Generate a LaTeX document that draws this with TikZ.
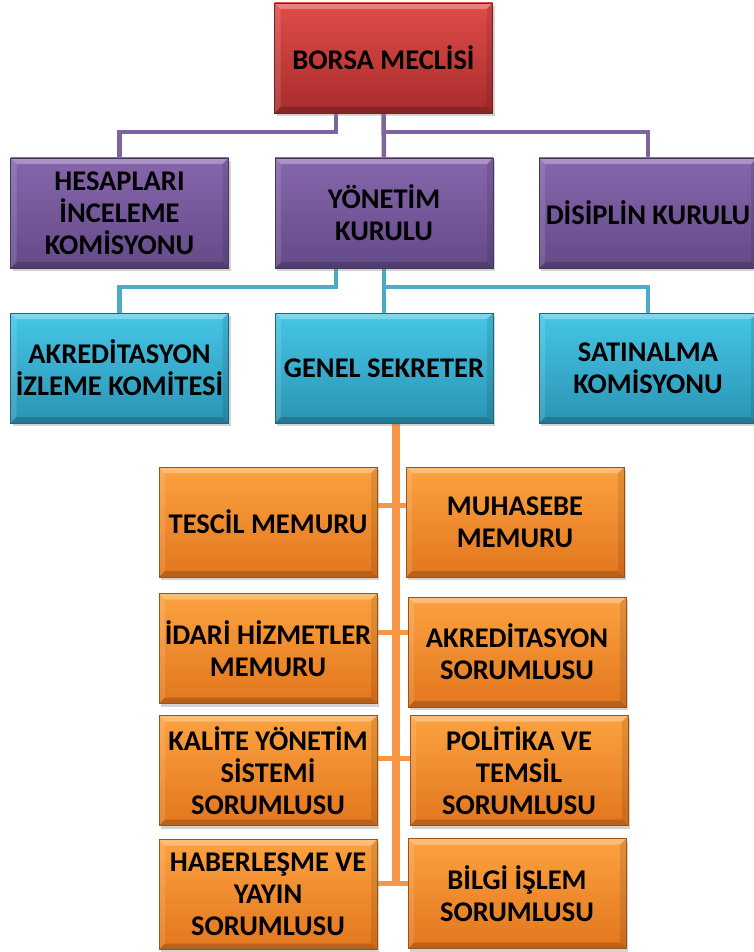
\documentclass[tikz,border=0pt]{standalone}
\usepackage{fontspec}
\setmainfont{Carlito}
\usepackage{xcolor}
\usetikzlibrary{positioning, shadows, backgrounds}

\definecolor{redtop}{RGB}{224,76,72}
\definecolor{redbot}{RGB}{168,44,44}
\definecolor{purtop}{RGB}{134,102,172}
\definecolor{purbot}{RGB}{100,74,136}
\definecolor{cyantop}{RGB}{70,198,230}
\definecolor{cyanbot}{RGB}{42,148,180}
\definecolor{orgtop}{RGB}{252,162,64}
\definecolor{orgbot}{RGB}{226,118,30}
\definecolor{purline}{RGB}{128,100,162}
\definecolor{cyanline}{RGB}{75,172,198}
\definecolor{orgline}{RGB}{247,150,70}

\tikzset{
  box/.style={minimum width=218pt, minimum height=110pt, inner sep=0pt,
    align=center, font=\bfseries\fontsize{28.5}{32}\selectfont,
    drop shadow={shadow xshift=2pt, shadow yshift=-3pt, opacity=0.35},
    path picture={
      \fill[white, opacity=0.30] (path picture bounding box.north west) -- (path picture bounding box.north east)
        -- ([xshift=-6pt, yshift=-6pt]path picture bounding box.north east) -- ([xshift=6pt, yshift=-6pt]path picture bounding box.north west) -- cycle;
      \fill[white, opacity=0.12] (path picture bounding box.north west) -- ([xshift=6pt, yshift=-6pt]path picture bounding box.north west)
        -- ([xshift=6pt, yshift=6pt]path picture bounding box.south west) -- (path picture bounding box.south west) -- cycle;
      \fill[black, opacity=0.18] (path picture bounding box.south west) -- (path picture bounding box.south east)
        -- ([xshift=-6pt, yshift=6pt]path picture bounding box.south east) -- ([xshift=6pt, yshift=6pt]path picture bounding box.south west) -- cycle;
      \fill[black, opacity=0.10] (path picture bounding box.north east) -- ([xshift=-6pt, yshift=-6pt]path picture bounding box.north east)
        -- ([xshift=-6pt, yshift=6pt]path picture bounding box.south east) -- (path picture bounding box.south east) -- cycle;
    }},
  redbox/.style={box, top color=redtop, bottom color=redbot, draw=redbot!70!black, line width=0.4pt},
  purbox/.style={box, top color=purtop, bottom color=purbot, draw=purbot!70!black, line width=0.4pt},
  cyanbox/.style={box, top color=cyantop, bottom color=cyanbot, draw=cyanbot!70!black, line width=0.4pt},
  orgbox/.style={box, top color=orgtop, bottom color=orgbot, draw=orgbot!70!black, line width=0.4pt},
  purconn/.style={purline, line width=4.5pt},
  cyanconn/.style={cyanline, line width=4.5pt},
  orgspine/.style={orgline, line width=8pt},
  orgbranch/.style={orgline, line width=5pt}
}

\begin{document}
\begin{tikzpicture}[x=1pt, y=-1pt]
    \useasboundingbox (0,0) rectangle (753,952);

    % Meclis
    \node[redbox] (meclis) at (383.5,58) {BORSA MECLİSİ};

    % Kurullar (purple)
    \node[purbox] (hesap) at (119.5,213) {HESAPLARI\\İNCELEME\\KOMİSYONU};
    \node[purbox] (yonetim) at (384,213) {YÖNETİM\\KURULU};
    \node[purbox] (disiplin) at (648,213) {DİSİPLİN KURULU};

    % Komite / sekreter (cyan)
    \node[cyanbox] (akredizl) at (119.5,368) {AKREDİTASYON\\İZLEME KOMİTESİ};
    \node[cyanbox] (genel) at (384,368) {GENEL SEKRETER};
    \node[cyanbox] (satin) at (648,368) {SATINALMA\\KOMİSYONU};

    % Memurlar - left column (orange)
    \node[orgbox] (tescil) at (268,522) {TESCİL MEMURU};
    \node[orgbox] (idari) at (268,648.5) {İDARİ HİZMETLER\\MEMURU};
    \node[orgbox] (kalite) at (268,770.5) {KALİTE YÖNETİM\\SİSTEMİ\\SORUMLUSU};
    \node[orgbox] (haber) at (268,894.5) {HABERLEŞME VE\\YAYIN\\SORUMLUSU};

    % Memurlar - right column (orange)
    \node[orgbox] (muhasebe) at (515,522) {MUHASEBE\\MEMURU};
    \node[orgbox] (akredsor) at (517,652) {AKREDİTASYON\\SORUMLUSU};
    \node[orgbox] (politika) at (519,770.5) {POLİTİKA VE\\TEMSİL\\SORUMLUSU};
    \node[orgbox] (bilgi) at (517,893.5) {BİLGİ İŞLEM\\SORUMLUSU};

    % Connectors
    \begin{scope}[on background layer]
        \draw[purconn] ([xshift=-47.5pt]meclis.south) -- ++(0,19) -| (hesap.north);
        \draw[purconn] (meclis.south) -- (yonetim.north);
        \draw[purconn] (meclis.south) ++(0,19) -| (disiplin.north);

        \draw[cyanconn] ([xshift=-48pt]yonetim.south) -- ++(0,19) -| (akredizl.north);
        \draw[cyanconn] (yonetim.south) -- (genel.north);
        \draw[cyanconn] (yonetim.south) ++(0,19) -| (satin.north);

        \draw[orgspine] ([xshift=12pt]genel.south) -- ++(0,460);
        \draw[orgbranch] ([yshift=17pt]tescil.east) -- ([yshift=17pt]muhasebe.west);
        \draw[orgbranch] ([yshift=16.5pt]idari.east) -- ([yshift=20pt]akredsor.west);
        \draw[orgbranch] ([yshift=12.5pt]kalite.east) -- ([yshift=12.5pt]politika.west);
        \draw[orgbranch] ([yshift=11.5pt]haber.east) -- ([yshift=10.5pt]bilgi.west);
    \end{scope}
\end{tikzpicture}
\end{document}
